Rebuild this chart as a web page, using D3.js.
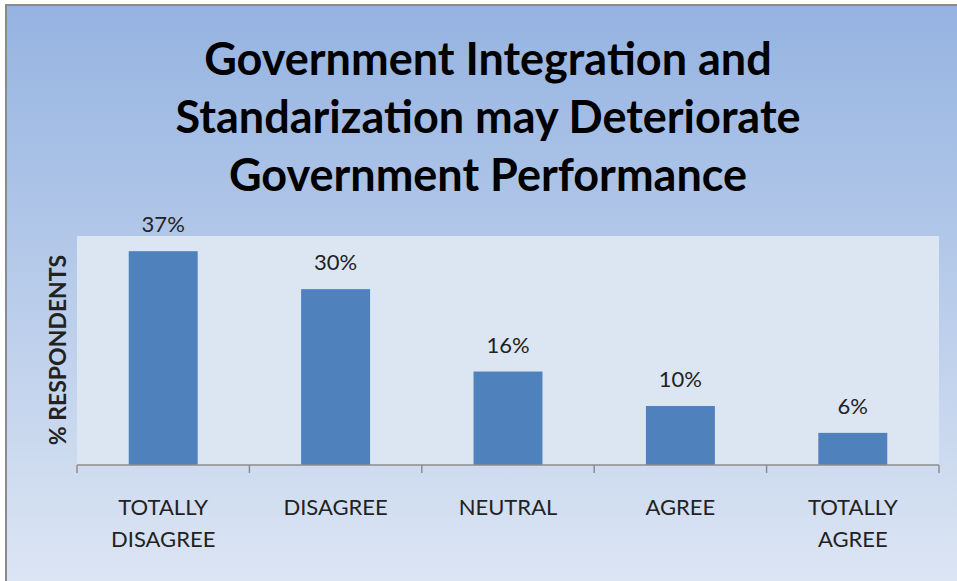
<!DOCTYPE html>
<html><head><meta charset="utf-8">
<script src="https://cdn.jsdelivr.net/npm/d3@7"></script>
<style>html,body{margin:0;padding:0;background:#fff;overflow:hidden}</style>
</head><body>
<svg id="chart" width="957" height="581"></svg>
<script>
const categories = [["TOTALLY","DISAGREE"],["DISAGREE"],["NEUTRAL"],["AGREE"],["TOTALLY","AGREE"]];
const values = [36.6, 30.1, 16.0, 10.1, 5.5];
const titleLines = ["Government Integration and","Standarization may Deteriorate","Government Performance"];
const yLabel = "% RESPONDENTS";

const svg = d3.select("#chart");
const defs = svg.append("defs");
const g = defs.append("linearGradient").attr("id","bg").attr("x1",0).attr("y1",0).attr("x2",0).attr("y2",1);
g.append("stop").attr("offset","0%").attr("stop-color","#95b3e1");
g.append("stop").attr("offset","100%").attr("stop-color","#dfe7f4");

svg.append("rect").attr("x",6).attr("y",5).attr("width",970).attr("height",600)
  .attr("fill","url(#bg)").attr("stroke","#8a8a8a").attr("stroke-width",2);

const plot = {left:77, right:939, top:236, bottom:465};
svg.append("rect").attr("x",plot.left).attr("y",plot.top)
  .attr("width",plot.right-plot.left).attr("height",plot.bottom-plot.top).attr("fill","#dce6f2");

const x = d3.scaleBand().domain(d3.range(values.length)).range([plot.left, plot.right])
  .paddingInner(0.6).paddingOuter(0.3);
const y = d3.scaleLinear().domain([0, 39.2]).range([plot.bottom, plot.top]);

svg.selectAll("rect.bar").data(values).join("rect").attr("class","bar")
  .attr("x",(d,i)=>x(i)).attr("width",x.bandwidth())
  .attr("y",d=>y(d)).attr("height",d=>y(0)-y(d)).attr("fill","#4f81bd");

svg.selectAll("text.val").data(values).join("text").attr("class","val")
  .attr("x",(d,i)=>x(i)+x.bandwidth()/2).attr("y",d=>y(d)-19)
  .attr("text-anchor","middle").attr("font-family","Lato, 'Open Sans', sans-serif")
  .attr("font-size",22).attr("fill","#222")
  .text(d=>Math.round(d)+"%");

// axis
const ticks = d3.range(values.length+1).map(i=>plot.left + i*(plot.right-plot.left)/values.length);
svg.append("line").attr("x1",plot.left).attr("x2",plot.right).attr("y1",plot.bottom).attr("y2",plot.bottom)
  .attr("stroke","#8c8c8c").attr("stroke-width",1.5);
svg.selectAll("line.tick").data(ticks).join("line").attr("class","tick")
  .attr("x1",d=>d).attr("x2",d=>d).attr("y1",plot.bottom).attr("y2",plot.bottom+8)
  .attr("stroke","#8c8c8c").attr("stroke-width",1.5);

const cl = svg.selectAll("text.cat").data(categories).join("text").attr("class","cat")
  .attr("text-anchor","middle").attr("font-family","Lato, 'Open Sans', sans-serif")
  .attr("font-size",22).attr("fill","#222");
cl.each(function(lines,i){
  d3.select(this).selectAll("tspan").data(lines).join("tspan")
    .attr("x",x(i)+x.bandwidth()/2).attr("y",(l,j)=>515+j*32).text(l=>l);
});

svg.append("text").attr("transform","translate(66,350) rotate(-90)")
  .attr("text-anchor","middle").attr("font-family","Lato, 'Open Sans', sans-serif")
  .attr("font-size",23).attr("font-weight","bold").attr("fill","#222").text(yLabel);

svg.selectAll("text.title").data(titleLines).join("text").attr("class","title")
  .attr("x",488).attr("y",(d,i)=>75+i*58).attr("text-anchor","middle")
  .attr("font-family","Lato, 'Open Sans', sans-serif").attr("font-weight","bold")
  .attr("font-size",45).attr("fill","#000").text(d=>d);
</script>
</body></html>
